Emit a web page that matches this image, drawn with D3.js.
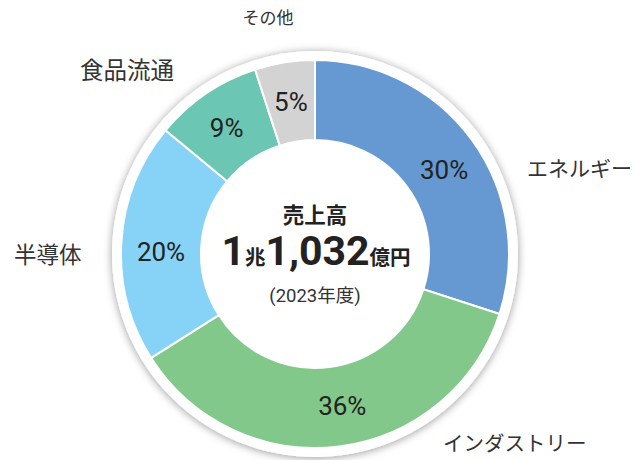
<!DOCTYPE html>
<html><head><meta charset="utf-8">
<script src="https://cdn.jsdelivr.net/npm/d3@7"></script>
<style>
html,body{margin:0;padding:0;background:#fff;}
svg{display:block;font-family:Roboto,"Noto Sans CJK JP",sans-serif;}
</style></head>
<body>
<svg id="chart" width="639" height="460"></svg>
<script>
const categories = ["エネルギー","インダストリー","半導体","食品流通","その他"];
const values = [30, 36, 20, 9, 5];
const colors = ["#6699d2","#82c88b","#87d3f7","#6cc6b4","#d3d3d3"];
const totalTitle = "売上高";
const totalParts = [["1","big"],["兆","small"],["1,032","big"],["億円","small"]];
const yearLabel = "(2023年度)";

const svg = d3.select("#chart");
const cx = 315, cy = 254, rOuter = 194, rInner = 114, rLabel = 154;
// small angular nudges (degrees) for the in-slice percentage labels
const labelNudge = [3, -3, -3, -0.8, 0];

const defs = svg.append("defs");
const f = defs.append("filter").attr("id","sh").attr("x","-20%").attr("y","-20%").attr("width","140%").attr("height","140%");
f.append("feDropShadow").attr("dx",0).attr("dy",1).attr("stdDeviation",4.5).attr("flood-color","#000").attr("flood-opacity",0.4);

const g = svg.append("g").attr("transform",`translate(${cx},${cy})`);
g.append("circle").attr("r",203).attr("fill","#fff").attr("filter","url(#sh)");

const pie = d3.pie().sort(null).value(d=>d);
const arcs = pie(values);
const arc = d3.arc().innerRadius(rInner).outerRadius(rOuter);
const labelArc = d3.arc().innerRadius(rLabel).outerRadius(rLabel);

g.selectAll("path.slice").data(arcs).join("path")
  .attr("class","slice")
  .attr("d",arc)
  .attr("fill",(d,i)=>colors[i])
  .attr("stroke","#fff").attr("stroke-width",2);

function labelPos(d,i){
  const sh = labelNudge[i]*Math.PI/180;
  return labelArc.centroid({startAngle:d.startAngle+sh,endAngle:d.endAngle+sh});
}
g.selectAll("text.pct").data(arcs).join("text")
  .attr("class","pct")
  .attr("x",(d,i)=>labelPos(d,i)[0])
  .attr("y",(d,i)=>labelPos(d,i)[1])
  .attr("text-anchor","middle").attr("dominant-baseline","central")
  .attr("font-size",26).attr("fill","#222")
  .text(d=>d.data+"%");

// outer category labels
const outerPos = [
  {x:527,y:167,anchor:"start",size:21},
  {x:443,y:442,anchor:"start",size:20.5},
  {x:14,y:253,anchor:"start",size:22.5},
  {x:80,y:69,anchor:"start",size:23.5},
  {x:268,y:16,anchor:"middle",size:17}
];
svg.selectAll("text.cat").data(categories).join("text")
  .attr("class","cat")
  .attr("x",(d,i)=>outerPos[i].x).attr("y",(d,i)=>outerPos[i].y)
  .attr("text-anchor",(d,i)=>outerPos[i].anchor)
  .attr("dominant-baseline","central")
  .attr("font-size",(d,i)=>outerPos[i].size)
  .attr("font-family","'Noto Sans CJK JP',sans-serif")
  .attr("fill","#333")
  .text(d=>d);

// center text
g.append("text").attr("x",0).attr("y",-31).attr("text-anchor","middle")
  .attr("font-size",21.5).attr("font-weight","bold").attr("fill","#222")
  .attr("font-family","'Noto Sans CJK JP',sans-serif")
  .text(totalTitle);
const t2 = g.append("text").attr("x",1).attr("y",11).attr("text-anchor","middle")
  .attr("font-weight","bold").attr("fill","#222");
totalParts.forEach(p=>{
  t2.append("tspan").attr("font-size",p[1]==="big"?41:20.5)
    .attr("font-family",p[1]==="big"?"Roboto,sans-serif":"'Noto Sans CJK JP',sans-serif")
    .text(p[0]);
});
g.append("text").attr("x",0).attr("y",48).attr("text-anchor","middle")
  .attr("font-size",18.5).attr("fill","#333")
  .text(yearLabel);
</script>
</body></html>
